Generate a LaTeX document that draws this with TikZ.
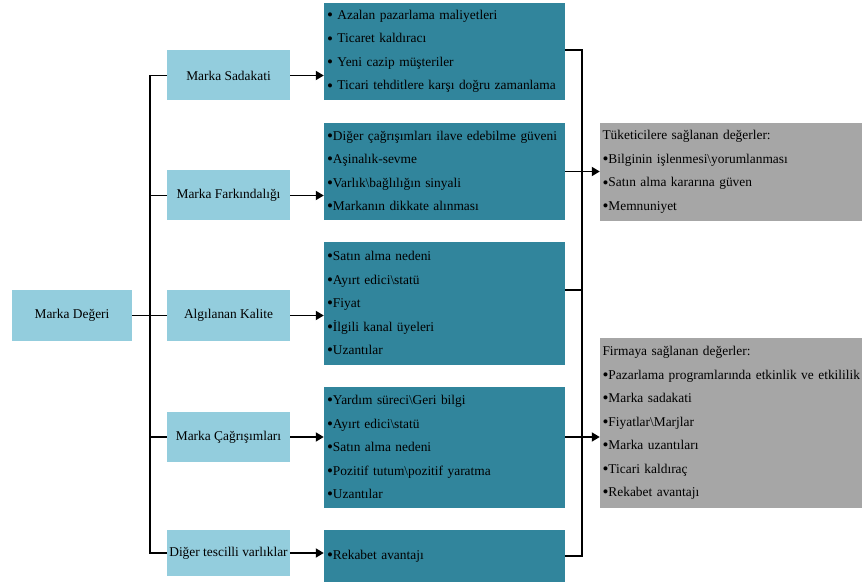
\documentclass[tikz,border=0pt]{standalone}
\usepackage{fontspec}
\setmainfont{Liberation Serif}
\usetikzlibrary{arrows.meta}
\definecolor{acikmavi}{HTML}{93CDDD}
\definecolor{koyumavi}{HTML}{31859C}
\definecolor{gri}{HTML}{A6A6A6}
\newcommand{\madde}{\raisebox{-1.1pt}{\fontsize{17}{23.5}\selectfont\textbullet}}

\begin{document}
\begin{tikzpicture}[x=1pt, y=-1pt,
  every node/.style={font=\fontsize{13.4}{23.5}\selectfont, inner sep=0pt},
  kutu/.style={fill=acikmavi, minimum width=123pt, minimum height=50pt, align=center},
  liste/.style={fill=koyumavi, minimum width=241pt, text width=235pt, align=left},
  deger/.style={fill=gri, minimum width=262pt, text width=257pt, align=left},
  hat/.style={line width=1.8pt},
  ok/.style={hat, -{Triangle[length=8pt, width=9pt]}}]
  \useasboundingbox (0,0) rectangle (862,585);
  \fill[white] (0,0) rectangle (862,585);

  \node[kutu, minimum width=120pt, minimum height=51pt] (marka) at (72,315.5) {Marka Değeri};
  \node[kutu] (sadakat) at (228.5,75.5) {Marka Sadakati};
  \node[kutu] (farkindalik) at (228.5,195.5) {Marka Farkındalığı};
  \node[kutu] (kalite) at (228.5,315.5) {Algılanan Kalite};
  \node[kutu] (cagrisim) at (228.5,437) {Marka Çağrışımları};
  \node[kutu, minimum height=46pt] (diger) at (228.5,553) {Diğer tescilli varlıklar};

  \node[liste, minimum height=97pt] (m1) at (444.5,51.5) {\madde\ Azalan pazarlama maliyetleri\\ \madde\ Ticaret kaldıracı\\ \madde\ Yeni cazip müşteriler\\ \madde\ Ticari tehditlere karşı doğru zamanlama};
  \node[liste, minimum height=97pt] (m2) at (444.5,171.5) {\madde Diğer çağrışımları ilave edebilme güveni\\ \madde Aşinalık-sevme\\ \madde Varlık\textbackslash bağlılığın sinyali\\ \madde Markanın dikkate alınması};
  \node[liste, minimum height=123pt] (m3) at (444.5,303.5) {\madde Satın alma nedeni\\ \madde Ayırt edici\textbackslash statü\\ \madde Fiyat\\ \madde İlgili kanal üyeleri\\ \madde Uzantılar};
  \node[liste, minimum height=121pt] (m4) at (444.5,447.5) {\madde Yardım süreci\textbackslash Geri bilgi\\ \madde Ayırt edici\textbackslash statü\\ \madde Satın alma nedeni\\ \madde Pozitif tutum\textbackslash pozitif yaratma\\ \madde Uzantılar};
  \node[liste, minimum height=52pt] (m5) at (444.5,556) {\madde Rekabet avantajı};

  \node[deger, minimum height=98pt] (g1) at (731,172) {Tüketicilere sağlanan değerler:\\ \madde Bilginin işlenmesi\textbackslash yorumlanması\\ \madde Satın alma kararına güven\\ \madde Memnuniyet};
  \node[deger, minimum height=170pt] (g2) at (731,423) {Firmaya sağlanan değerler:\\ \mbox{\madde Pazarlama programlarında etkinlik ve etkililik}\\ \madde Marka sadakati\\ \madde Fiyatlar\textbackslash Marjlar\\ \madde Marka uzantıları\\ \madde Ticari kaldıraç\\ \madde Rekabet avantajı};

  \draw[hat] (marka.east) -- (kalite.west);
  \draw[hat] (sadakat.west) -- ++(-17,0) coordinate (s1) -- (s1 |- diger.west) -- (diger.west);
  \draw[hat] (farkindalik.west) -- (farkindalik.west -| s1);
  \draw[hat] (cagrisim.west) -- (cagrisim.west -| s1);
  \foreach \a/\b in {sadakat/m1, farkindalik/m2, kalite/m3, cagrisim/m4, diger/m5}
    \draw[ok] (\a.east) -- (\a.east -| \b.west);

  \coordinate (r1) at (582,50);
  \coordinate (r2) at (582,171.5);
  \coordinate (r3) at (582,290);
  \coordinate (r4) at (582,437);
  \coordinate (r5) at (582,556);
  \draw[hat] (r1 -| m1.east) -- (r1) -- (r5) -- (r5 -| m5.east);
  \draw[hat] (r3 -| m3.east) -- (r3);
  \draw[ok] (r2 -| m2.east) -- (r2 -| g1.west);
  \draw[ok] (r4 -| m4.east) -- (r4 -| g2.west);
\end{tikzpicture}
\end{document}
